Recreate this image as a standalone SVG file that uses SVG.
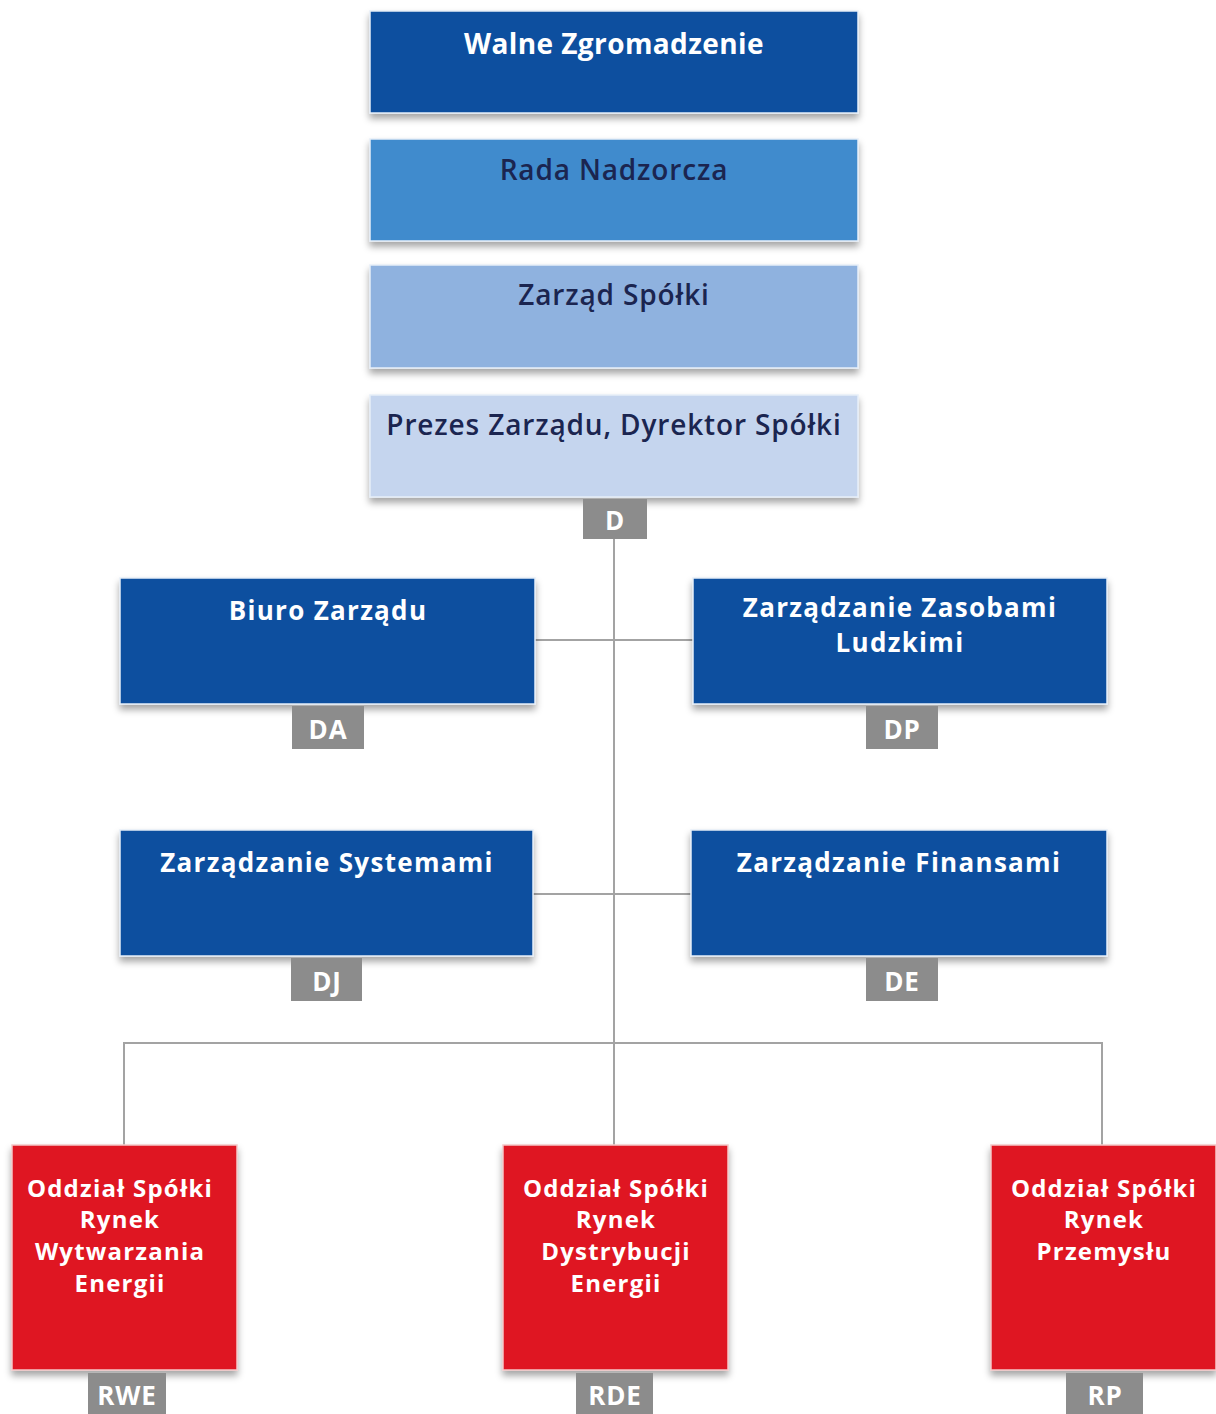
<svg xmlns="http://www.w3.org/2000/svg" width="1216" height="1414" viewBox="0 0 1216 1414">
  <defs>
    <filter id="sh" x="-10%" y="-10%" width="120%" height="130%">
      <feDropShadow dx="0" dy="5" stdDeviation="3.5" flood-color="#000" flood-opacity="0.35"/>
    </filter>
    <style>
      .box { stroke: #e6eef8; stroke-width: 1.5; filter: url(#sh); }
      .dark { fill: #0a4f9f; }
      .mid { fill: #3f8bcd; }
      .light { fill: #8fb2df; }
      .pale { fill: #c5d5ee; }
      .red { fill: #df1720; stroke: #f4c8c8; }
      .tag { fill: #8c8c8c; }
      .conn { stroke: #a3a3a3; stroke-width: 2; fill: none; }
      text { font-family: "Open Sans", "Noto Sans", "DejaVu Sans", sans-serif; text-anchor: middle; }
      .tw { fill: #ffffff; font-weight: 700; }
      .td { fill: #1b2550; font-weight: 600; font-size: 28px; letter-spacing: 0.85px; }
      .tm { fill: #ffffff; font-weight: 700; font-size: 26px; letter-spacing: 1.3px; }
      .tr { fill: #ffffff; font-weight: 700; font-size: 24px; letter-spacing: 1.2px; }
      .tt { fill: #ffffff; font-weight: 700; font-size: 26px; letter-spacing: 0.8px; }
    </style>
  </defs>
  <rect width="1216" height="1414" fill="#ffffff"/>

  <g id="connectors">
    <line class="conn" x1="614" y1="538" x2="614" y2="1145"/>
    <line class="conn" x1="535" y1="640" x2="693" y2="640"/>
    <line class="conn" x1="533" y1="894" x2="691" y2="894"/>
    <polyline class="conn" points="124,1145 124,1043 1102,1043 1102,1145"/>
  </g>

  <g id="walne">
    <rect class="box dark" x="370" y="11" width="488" height="102"/>
    <text class="tw" x="614" y="54" font-size="28" letter-spacing="0.4">Walne Zgromadzenie</text>
  </g>
  <g id="rada">
    <rect class="box mid" x="370" y="139" width="488" height="102"/>
    <text class="td" x="614" y="180">Rada Nadzorcza</text>
  </g>
  <g id="zarzad">
    <rect class="box light" x="370" y="265" width="488" height="103"/>
    <text class="td" x="614" y="305">Zarząd Spółki</text>
  </g>
  <g id="prezes">
    <rect class="box pale" x="370" y="395" width="488" height="102"/>
    <text class="td" x="614" y="435">Prezes Zarządu, Dyrektor Spółki</text>
    <rect class="tag" x="583" y="499" width="64" height="40"/>
    <text class="tt" x="615" y="530">D</text>
  </g>

  <g id="biuro">
    <rect class="box dark" x="120" y="578" width="415" height="126"/>
    <text class="tm" x="328" y="620">Biuro Zarządu</text>
    <rect class="tag" x="292" y="706" width="72" height="43"/>
    <text class="tt" x="328" y="739">DA</text>
  </g>
  <g id="zasoby">
    <rect class="box dark" x="693" y="578" width="414" height="126"/>
    <text class="tm" x="900" y="617">Zarządzanie Zasobami<tspan x="900" dy="35">Ludzkimi</tspan></text>
    <rect class="tag" x="866" y="706" width="72" height="43"/>
    <text class="tt" x="902" y="739">DP</text>
  </g>
  <g id="systemy">
    <rect class="box dark" x="120" y="830" width="413" height="126"/>
    <text class="tm" x="327" y="872">Zarządzanie Systemami</text>
    <rect class="tag" x="291" y="958" width="71" height="43"/>
    <text class="tt" x="327" y="991">DJ</text>
  </g>
  <g id="finanse">
    <rect class="box dark" x="691" y="830" width="416" height="126"/>
    <text class="tm" x="899" y="872">Zarządzanie Finansami</text>
    <rect class="tag" x="866" y="958" width="72" height="43"/>
    <text class="tt" x="902" y="991">DE</text>
  </g>

  <g id="rwe">
    <rect class="box red" x="12" y="1145" width="225" height="225"/>
    <text class="tr" x="120" y="1197">Oddział Spółki<tspan x="120" dy="31">Rynek</tspan><tspan x="120" dy="32">Wytwarzania</tspan><tspan x="120" dy="32">Energii</tspan></text>
    <rect class="tag" x="88" y="1373" width="78" height="41"/>
    <text class="tt" x="127" y="1405">RWE</text>
  </g>
  <g id="rde">
    <rect class="box red" x="503" y="1145" width="225" height="225"/>
    <text class="tr" x="616" y="1197">Oddział Spółki<tspan x="616" dy="31">Rynek</tspan><tspan x="616" dy="32">Dystrybucji</tspan><tspan x="616" dy="32">Energii</tspan></text>
    <rect class="tag" x="576" y="1373" width="77" height="41"/>
    <text class="tt" x="615" y="1405">RDE</text>
  </g>
  <g id="rp">
    <rect class="box red" x="991" y="1145" width="225" height="225"/>
    <text class="tr" x="1104" y="1197">Oddział Spółki<tspan x="1104" dy="31">Rynek</tspan><tspan x="1104" dy="32">Przemysłu</tspan></text>
    <rect class="tag" x="1066" y="1373" width="77" height="41"/>
    <text class="tt" x="1105" y="1405">RP</text>
  </g>
</svg>
